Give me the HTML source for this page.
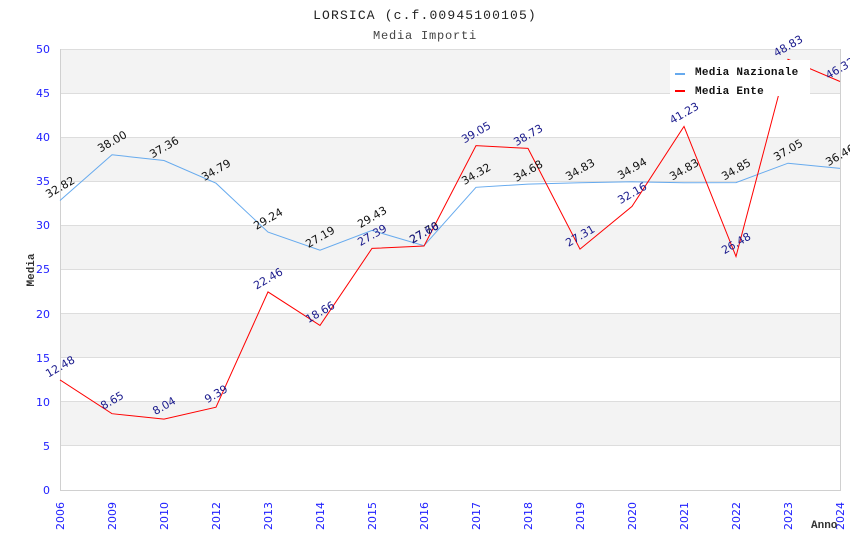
<!DOCTYPE html>
<html><head><meta charset="utf-8"><style>
html,body{margin:0;padding:0;background:#fff;}
svg{display:block;}
</style></head><body>
<svg width="850" height="550" viewBox="0 0 850 550" xmlns="http://www.w3.org/2000/svg">
<rect x="0" y="0" width="850" height="550" fill="#fff"/>
<!-- bands -->
<g fill="#f3f3f3">
<rect x="60" y="49" width="780" height="44.1"/>
<rect x="60" y="137.2" width="780" height="44.1"/>
<rect x="60" y="225.4" width="780" height="44.1"/>
<rect x="60" y="313.6" width="780" height="44.1"/>
<rect x="60" y="401.8" width="780" height="44.1"/>
</g>
<g stroke="#dddddd" stroke-width="1">
<line x1="60" y1="49.5" x2="840" y2="49.5"/>
<line x1="60" y1="93.5" x2="840" y2="93.5"/>
<line x1="60" y1="137.5" x2="840" y2="137.5"/>
<line x1="60" y1="181.5" x2="840" y2="181.5"/>
<line x1="60" y1="225.5" x2="840" y2="225.5"/>
<line x1="60" y1="269.5" x2="840" y2="269.5"/>
<line x1="60" y1="313.5" x2="840" y2="313.5"/>
<line x1="60" y1="357.5" x2="840" y2="357.5"/>
<line x1="60" y1="401.5" x2="840" y2="401.5"/>
<line x1="60" y1="445.5" x2="840" y2="445.5"/>
</g>
<g stroke="#d0d0d0" stroke-width="1">
<line x1="60.5" y1="49" x2="60.5" y2="490"/>
<line x1="840.5" y1="49" x2="840.5" y2="490"/>
<line x1="60" y1="490.5" x2="841" y2="490.5"/>
</g>
<!-- titles -->
<text x="425" y="19" text-anchor="middle" font-family="Liberation Mono, DejaVu Sans Mono, monospace" font-size="13" letter-spacing="1.15" fill="#222">LORSICA (c.f.00945100105)</text>
<text x="425" y="39" text-anchor="middle" font-family="Liberation Mono, DejaVu Sans Mono, monospace" font-size="12" letter-spacing="0.8" fill="#444">Media Importi</text>
<!-- y ticks -->
<g font-family="DejaVu Sans, Liberation Sans, sans-serif" font-size="11" fill="#2020ff" text-anchor="end">
<text x="50" y="53">50</text>
<text x="50" y="97">45</text>
<text x="50" y="141">40</text>
<text x="50" y="185">35</text>
<text x="50" y="229">30</text>
<text x="50" y="273">25</text>
<text x="50" y="318">20</text>
<text x="50" y="362">15</text>
<text x="50" y="406">10</text>
<text x="50" y="450">5</text>
<text x="50" y="494">0</text>
</g>
<!-- x ticks -->
<g font-family="DejaVu Sans, Liberation Sans, sans-serif" font-size="11" fill="#2020ff" text-anchor="end">
<text transform="translate(64,502) rotate(-90)">2006</text>
<text transform="translate(116,502) rotate(-90)">2009</text>
<text transform="translate(168,502) rotate(-90)">2010</text>
<text transform="translate(220,502) rotate(-90)">2012</text>
<text transform="translate(272,502) rotate(-90)">2013</text>
<text transform="translate(324,502) rotate(-90)">2014</text>
<text transform="translate(376,502) rotate(-90)">2015</text>
<text transform="translate(428,502) rotate(-90)">2016</text>
<text transform="translate(480,502) rotate(-90)">2017</text>
<text transform="translate(532,502) rotate(-90)">2018</text>
<text transform="translate(584,502) rotate(-90)">2019</text>
<text transform="translate(636,502) rotate(-90)">2020</text>
<text transform="translate(688,502) rotate(-90)">2021</text>
<text transform="translate(740,502) rotate(-90)">2022</text>
<text transform="translate(792,502) rotate(-90)">2023</text>
<text transform="translate(844,502) rotate(-90)">2024</text>
</g>
<!-- axis titles -->
<text transform="translate(34,270) rotate(-90)" text-anchor="middle" font-family="Liberation Mono, DejaVu Sans Mono, monospace" font-size="11" font-weight="bold" fill="#333">Media</text>
<text x="811" y="528" font-family="Liberation Mono, DejaVu Sans Mono, monospace" font-size="11" font-weight="bold" fill="#333">Anno</text>
<!-- blue series -->
<polyline fill="none" stroke="#66aaee" stroke-width="1" points="60,200.5 112,154.8 164,160.5 216,183.2 268,232.1 320,250.2 372,230.4 424,245.7 476,187.3 528,184.1 580,182.8 632,181.8 684,182.8 736,182.6 788,163.2 840,168.4"/>
<!-- red series -->
<polyline fill="none" stroke="#ff0000" stroke-width="1" points="60,379.9 112,413.7 164,419.1 216,407.2 268,291.9 320,325.4 372,248.4 424,246.0 476,145.6 528,148.4 580,249.1 632,206.4 684,126.4 736,256.5 788,59.3 840,81.5"/>
<!-- blue labels -->
<g font-family="DejaVu Sans, Liberation Sans, sans-serif" font-size="11" fill="#111" text-anchor="middle">
<text transform="translate(62,190.5) rotate(-30)">32.82</text>
<text transform="translate(114,144.8) rotate(-30)">38.00</text>
<text transform="translate(166,150.5) rotate(-30)">37.36</text>
<text transform="translate(218,173.2) rotate(-30)">34.79</text>
<text transform="translate(270,222.1) rotate(-30)">29.24</text>
<text transform="translate(322,240.2) rotate(-30)">27.19</text>
<text transform="translate(374,220.4) rotate(-30)">29.43</text>
<text transform="translate(426,235.7) rotate(-30)">27.70</text>
<text transform="translate(478,177.3) rotate(-30)">34.32</text>
<text transform="translate(530,174.1) rotate(-30)">34.68</text>
<text transform="translate(582,172.8) rotate(-30)">34.83</text>
<text transform="translate(634,171.8) rotate(-30)">34.94</text>
<text transform="translate(686,172.8) rotate(-30)">34.83</text>
<text transform="translate(738,172.6) rotate(-30)">34.85</text>
<text transform="translate(790,153.2) rotate(-30)">37.05</text>
<text transform="translate(842,158.4) rotate(-30)">36.46</text>
</g>
<!-- red labels -->
<g font-family="DejaVu Sans, Liberation Sans, sans-serif" font-size="11" fill="#1a1a8c" text-anchor="middle">
<text transform="translate(62,369.9) rotate(-30)">12.48</text>
<text transform="translate(114,403.7) rotate(-30)">8.65</text>
<text transform="translate(166,409.1) rotate(-30)">8.04</text>
<text transform="translate(218,397.2) rotate(-30)">9.39</text>
<text transform="translate(270,281.9) rotate(-30)">22.46</text>
<text transform="translate(322,315.4) rotate(-30)">18.66</text>
<text transform="translate(374,238.4) rotate(-30)">27.39</text>
<text transform="translate(426,236.0) rotate(-30)">27.66</text>
<text transform="translate(478,135.6) rotate(-30)">39.05</text>
<text transform="translate(530,138.4) rotate(-30)">38.73</text>
<text transform="translate(582,239.1) rotate(-30)">27.31</text>
<text transform="translate(634,196.4) rotate(-30)">32.16</text>
<text transform="translate(686,116.4) rotate(-30)">41.23</text>
<text transform="translate(738,246.5) rotate(-30)">26.48</text>
<text transform="translate(790,49.3) rotate(-30)">48.83</text>
<text transform="translate(842,71.5) rotate(-30)">46.32</text>
</g>
<!-- legend -->
<rect x="670" y="60" width="140" height="36" fill="#fff"/>
<rect x="675" y="73" width="10" height="2" fill="#66aaee"/>
<rect x="675" y="90" width="10" height="2" fill="#ff0000"/>
<g font-family="Liberation Mono, DejaVu Sans Mono, monospace" font-size="11" font-weight="bold" fill="#111" letter-spacing="0.3">
<text x="695" y="75">Media Nazionale</text>
<text x="695" y="94">Media Ente</text>
</g>
</svg>
</body></html>
